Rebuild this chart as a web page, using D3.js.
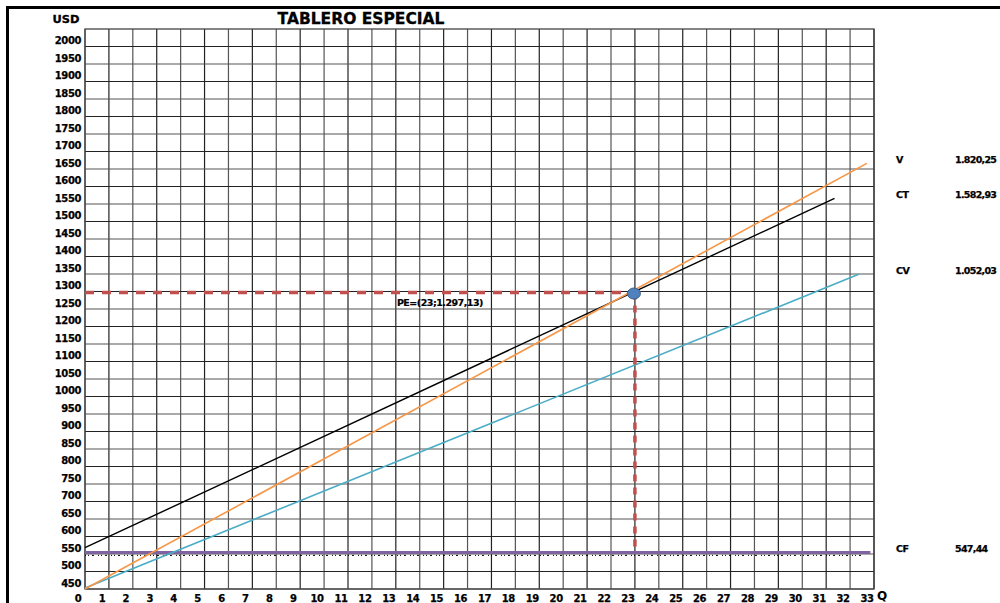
<!DOCTYPE html>
<html>
<head>
<meta charset="utf-8">
<script src="https://cdn.jsdelivr.net/npm/d3@7"></script>
<style>
  body { margin: 0; background: #fff; }
  text { font-family: "DejaVu Sans", sans-serif; font-weight: bold; fill: #000; }
</style>
</head>
<body>
<svg id="chart" width="1000" height="603"></svg>
<script>
// tick labels
const qTicks = [0, 1, 2, 3, 4, 5, 6, 7, 8, 9, 10, 11, 12, 13, 14, 15, 16, 17, 18, 19, 20, 21, 22, 23, 24, 25, 26, 27, 28, 29, 30, 31, 32, 33];
const usdTicks = [2000, 1950, 1900, 1850, 1800, 1750, 1700, 1650, 1600, 1550, 1500, 1450, 1400, 1350, 1300, 1250, 1200, 1150, 1100, 1050, 1000, 950, 900, 850, 800, 750, 700, 650, 600, 550, 500, 450];

// lines: [Q, USD]
const vLine = [[0, 450], [32.7, 1666]];
const ctLine = [[0, 568], [31.35, 1566]];
const cvLine = [[0, 453], [32.36, 1349]];
const cfLine = [[0, 554], [32.85, 554]];
const cfDotted = [[0, 546], [32.6, 546]];
const breakEven = [23, 1297.13];

// end labels
const endNames = ["V", "CT", "CV", "CF"];
const endValues = ["1.820,25", "1.582,93", "1.052,03", "547,44"];
const endLines = [vLine, ctLine, cvLine, cfLine];

const svg = d3.select("#chart");
const plotL = 85, plotR = 874, plotT = 29, plotB = 589;

const x = d3.scaleLinear().domain([0, 33]).range([plotL, plotR]);
const y = d3.scaleLinear().domain([450, 2050]).range([plotB, plotT]);

// outer frame (top and left only)
svg.append("line").attr("x1", 6).attr("x2", 1000).attr("y1", 7.5).attr("y2", 7.5)
  .attr("stroke", "#000").attr("stroke-width", 3);
svg.append("line").attr("x1", 7.5).attr("x2", 7.5).attr("y1", 6).attr("y2", 603)
  .attr("stroke", "#000").attr("stroke-width", 3);

// grid
const grid = svg.append("g").attr("class", "grid");
grid.selectAll(".vline")
  .data(qTicks)
  .join("line")
  .attr("x1", (d) => x(d)).attr("x2", (d) => x(d))
  .attr("y1", plotT).attr("y2", plotB)
  .attr("stroke", (d) => (d % 2 ? "#222" : "#555"))
  .attr("stroke-width", 1.2);
grid.selectAll(".hline")
  .data(usdTicks)
  .join("line")
  .attr("x1", plotL).attr("x2", plotR)
  .attr("y1", (d) => y(d)).attr("y2", (d) => y(d))
  .attr("stroke", (d) => (d % 100 ? "#555" : "#222"))
  .attr("stroke-width", 1.2);
svg.append("rect")
  .attr("x", plotL).attr("y", plotT)
  .attr("width", plotR - plotL).attr("height", plotB - plotT)
  .attr("fill", "none").attr("stroke", "#444").attr("stroke-width", 1.3);

// axis labels
svg.append("g").selectAll("text")
  .data(usdTicks)
  .join("text")
  .attr("x", 81)
  .attr("y", (d) => y(d) - 6)
  .attr("dy", "0.35em")
  .attr("text-anchor", "end")
  .attr("font-size", 10)
  .attr("letter-spacing", -0.4)
  .attr("stroke", "#000").attr("stroke-width", 0.25)
  .text((d) => d);

svg.append("g").selectAll("text")
  .data(qTicks)
  .join("text")
  .attr("x", (d) => x(d) - 7)
  .attr("y", 598)
  .attr("dy", "0.35em")
  .attr("text-anchor", "middle")
  .attr("font-size", 10)
  .attr("letter-spacing", -0.4)
  .attr("stroke", "#000").attr("stroke-width", 0.25)
  .text((d) => d);

svg.append("text").attr("x", 66).attr("y", 19).attr("dy", "0.35em")
  .attr("text-anchor", "middle").attr("font-size", 11)
  .attr("textLength", 27).attr("lengthAdjust", "spacingAndGlyphs")
  .attr("stroke", "#000").attr("stroke-width", 0.3)
  .text("USD");
svg.append("text").attr("x", 877).attr("y", 600)
  .attr("font-size", 12).attr("font-family", "DejaVu Serif, serif")
  .text("Q");
svg.append("text").attr("x", 361).attr("y", 19).attr("dy", "0.35em")
  .attr("text-anchor", "middle").attr("font-size", 15)
  .attr("textLength", 167).attr("lengthAdjust", "spacingAndGlyphs")
  .attr("stroke", "#000").attr("stroke-width", 0.3)
  .text("TABLERO ESPECIAL");

// lines
const line = d3.line().x((d) => x(d[0])).y((d) => y(d[1]));

svg.append("path").datum(cfDotted).attr("d", line)
  .attr("fill", "none").attr("stroke", "#000").attr("stroke-width", 1)
  .attr("stroke-dasharray", "1,2,1,3,2,4");
svg.append("path").datum(cfLine).attr("d", line)
  .attr("fill", "none").attr("stroke", "#8064a2").attr("stroke-width", 3);
svg.append("path").datum(cvLine).attr("d", line)
  .attr("fill", "none").attr("stroke", "#4bacc6").attr("stroke-width", 1.6);
svg.append("path").datum(ctLine).attr("d", line)
  .attr("fill", "none").attr("stroke", "#000").attr("stroke-width", 1.4);
svg.append("path").datum(vLine).attr("d", line)
  .attr("fill", "none").attr("stroke", "#f79646").attr("stroke-width", 1.6);

// break-even guides
const red = "#c0504d";
svg.append("line")
  .attr("x1", x(0)).attr("x2", x(breakEven[0]))
  .attr("y1", y(breakEven[1])).attr("y2", y(breakEven[1]))
  .attr("stroke", red).attr("stroke-width", 3.5).attr("stroke-dasharray", "9,8");
svg.append("line")
  .attr("x1", x(breakEven[0])).attr("x2", x(breakEven[0]))
  .attr("y1", y(breakEven[1])).attr("y2", y(cfLine[0][1]))
  .attr("stroke", red).attr("stroke-width", 3.5).attr("stroke-dasharray", "7,6");
svg.append("ellipse")
  .attr("cx", x(breakEven[0]) - 1).attr("cy", y(breakEven[1]) + 1)
  .attr("rx", 6.5).attr("ry", 5.5)
  .attr("fill", "#4f81bd").attr("stroke", "#385d8a").attr("stroke-width", 1);
svg.append("text")
  .attr("x", x(breakEven[0]) - 238).attr("y", y(breakEven[1]) + 10)
  .attr("dy", "0.35em").attr("font-size", 9.5).attr("letter-spacing", -0.5)
  .attr("stroke", "#000").attr("stroke-width", 0.2)
  .text("PE=(23;1.297,13)");

// right-hand labels
const ends = endNames.map((n, i) => ({ name: n, value: endValues[i], usd: endLines[i][1][1] }));
const endG = svg.append("g").selectAll("g").data(ends).join("g")
  .attr("transform", (d) => `translate(0,${y(d.usd) - 4})`);
endG.append("text").attr("x", 896).attr("dy", "0.35em")
  .attr("font-size", 9.5).attr("letter-spacing", -0.5)
  .attr("stroke", "#000").attr("stroke-width", 0.25).text((d) => d.name);
endG.append("text").attr("x", 955).attr("dy", "0.35em")
  .attr("font-size", 9.5).attr("letter-spacing", -0.7)
  .attr("stroke", "#000").attr("stroke-width", 0.25)
  .text((d) => d.value);
</script>
</body>
</html>
